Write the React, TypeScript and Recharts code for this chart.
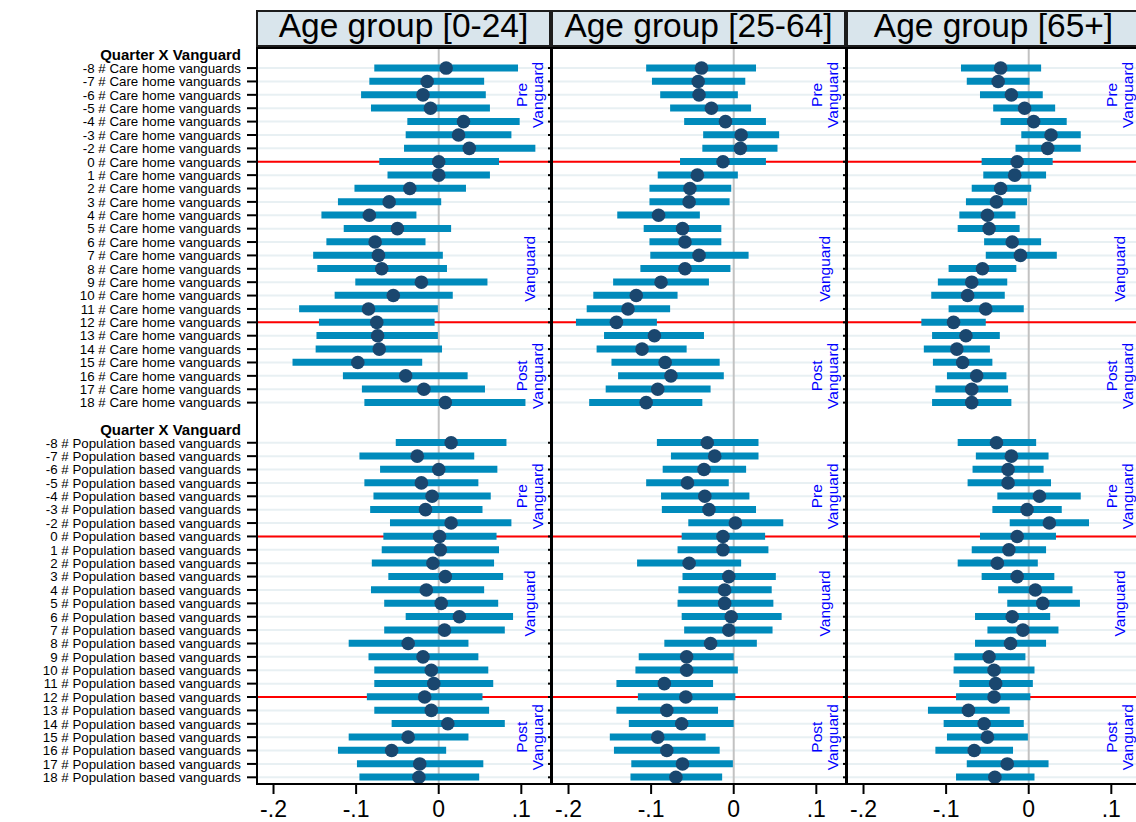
import { ComposedChart, Bar, Line, XAxis, YAxis, ReferenceLine, ReferenceDot } from "recharts";

// quarters relative to vanguard start (no -1 row in the model)
const quarters = [-8, -7, -6, -5, -4, -3, -2, 0, 1, 2, 3, 4, 5, 6, 7, 8, 9, 10, 11, 12, 13, 14, 15, 16, 17, 18];
const ageGroups = ["Age group [0-24]", "Age group [25-64]", "Age group [65+]"];
const groupTitle = "Quarter X Vanguard";
const careLabel = "Care home vanguards";
const popLabel = "Population based vanguards";
const xTicks = [-0.2, -0.1, 0, 0.1];
const redLineQuarters = [0, 12];

// Care home vanguards
const careYoungEst = [0.009, -0.014, -0.019, -0.01, 0.03, 0.024, 0.037, 0.0, 0.0, -0.035, -0.06, -0.084, -0.05, -0.077, -0.073, -0.069, -0.021, -0.055, -0.085, -0.075, -0.074, -0.072, -0.098, -0.04, -0.018, 0.008];
const careYoungLo = [-0.078, -0.084, -0.094, -0.082, -0.038, -0.04, -0.042, -0.072, -0.062, -0.102, -0.122, -0.142, -0.115, -0.136, -0.152, -0.147, -0.101, -0.126, -0.169, -0.145, -0.148, -0.149, -0.177, -0.116, -0.093, -0.09];
const careYoungHi = [0.096, 0.055, 0.057, 0.062, 0.098, 0.088, 0.117, 0.073, 0.062, 0.033, 0.003, -0.027, 0.015, -0.016, 0.005, 0.01, 0.059, 0.017, -0.001, -0.005, -0.001, 0.004, -0.02, 0.035, 0.056, 0.105];

const careAdultEst = [-0.039, -0.043, -0.042, -0.027, -0.01, 0.009, 0.008, -0.013, -0.044, -0.053, -0.054, -0.091, -0.062, -0.059, -0.042, -0.059, -0.088, -0.118, -0.128, -0.142, -0.096, -0.111, -0.083, -0.076, -0.092, -0.106];
const careAdultLo = [-0.106, -0.099, -0.089, -0.077, -0.06, -0.037, -0.038, -0.065, -0.092, -0.102, -0.102, -0.141, -0.109, -0.102, -0.101, -0.113, -0.146, -0.17, -0.178, -0.191, -0.157, -0.166, -0.148, -0.14, -0.155, -0.175];
const careAdultHi = [0.027, 0.014, 0.005, 0.021, 0.039, 0.055, 0.053, 0.039, 0.005, -0.003, -0.005, -0.041, -0.015, -0.015, 0.018, -0.004, -0.03, -0.068, -0.077, -0.093, -0.036, -0.057, -0.017, -0.012, -0.028, -0.038];

const careOldEst = [-0.034, -0.037, -0.021, -0.005, 0.006, 0.027, 0.023, -0.014, -0.017, -0.034, -0.039, -0.05, -0.048, -0.02, -0.01, -0.056, -0.069, -0.074, -0.052, -0.091, -0.076, -0.087, -0.08, -0.063, -0.069, -0.069];
const careOldLo = [-0.082, -0.075, -0.059, -0.043, -0.034, -0.009, -0.016, -0.057, -0.055, -0.069, -0.076, -0.084, -0.086, -0.054, -0.052, -0.097, -0.11, -0.118, -0.097, -0.13, -0.117, -0.127, -0.116, -0.099, -0.113, -0.117];
const careOldHi = [0.015, 0.001, 0.017, 0.032, 0.046, 0.063, 0.063, 0.029, 0.021, 0.003, -0.002, -0.016, -0.011, 0.015, 0.034, -0.015, -0.026, -0.029, -0.006, -0.052, -0.035, -0.047, -0.044, -0.027, -0.025, -0.021];

// Population based vanguards
const popYoungEst = [0.015, -0.026, 0.0, -0.021, -0.008, -0.016, 0.015, 0.001, 0.002, -0.007, 0.008, -0.015, 0.003, 0.025, 0.007, -0.037, -0.019, -0.009, -0.006, -0.017, -0.009, 0.011, -0.037, -0.057, -0.023, -0.024];
const popYoungLo = [-0.052, -0.096, -0.071, -0.09, -0.079, -0.083, -0.059, -0.067, -0.069, -0.081, -0.061, -0.082, -0.066, -0.04, -0.066, -0.109, -0.085, -0.078, -0.078, -0.087, -0.078, -0.057, -0.109, -0.122, -0.099, -0.096];
const popYoungHi = [0.082, 0.043, 0.071, 0.048, 0.063, 0.053, 0.088, 0.07, 0.073, 0.067, 0.078, 0.055, 0.072, 0.09, 0.08, 0.036, 0.048, 0.06, 0.066, 0.053, 0.061, 0.08, 0.036, 0.009, 0.054, 0.049];

const popAdultEst = [-0.032, -0.023, -0.036, -0.056, -0.035, -0.03, 0.002, -0.013, -0.013, -0.054, -0.006, -0.011, -0.011, -0.003, -0.006, -0.028, -0.057, -0.057, -0.084, -0.058, -0.081, -0.063, -0.092, -0.081, -0.062, -0.07];
const popAdultLo = [-0.093, -0.076, -0.086, -0.106, -0.088, -0.087, -0.055, -0.063, -0.068, -0.117, -0.062, -0.067, -0.068, -0.063, -0.06, -0.084, -0.115, -0.119, -0.142, -0.116, -0.142, -0.127, -0.15, -0.145, -0.124, -0.125];
const popAdultHi = [0.03, 0.03, 0.015, -0.006, 0.019, 0.027, 0.06, 0.038, 0.042, 0.009, 0.051, 0.046, 0.048, 0.058, 0.047, 0.028, 0.0, 0.005, -0.025, 0.002, -0.019, 0.0, -0.034, -0.017, -0.001, -0.014];

const popOldEst = [-0.039, -0.021, -0.025, -0.025, 0.013, -0.002, 0.025, -0.014, -0.024, -0.038, -0.014, 0.008, 0.017, -0.02, -0.007, -0.022, -0.048, -0.042, -0.04, -0.042, -0.073, -0.054, -0.05, -0.066, -0.026, -0.041];
const popOldLo = [-0.086, -0.064, -0.068, -0.074, -0.038, -0.044, -0.023, -0.059, -0.069, -0.086, -0.057, -0.037, -0.026, -0.065, -0.05, -0.065, -0.09, -0.091, -0.084, -0.088, -0.122, -0.103, -0.099, -0.113, -0.075, -0.088];
const popOldHi = [0.009, 0.024, 0.018, 0.027, 0.063, 0.04, 0.073, 0.033, 0.021, 0.011, 0.031, 0.053, 0.062, 0.026, 0.036, 0.021, -0.004, 0.007, 0.005, 0.002, -0.023, -0.006, -0.001, -0.019, 0.024, 0.007];

// period labels drawn at the right of every panel
const phaseX = 0.11;
const phaseLabels = [
  { group: "c", q: -6, lines: ["Pre", "Vanguard"] },
  { group: "c", q: 8, lines: ["Vanguard"] },
  { group: "c", q: 16, lines: ["Post", "Vanguard"] },
  { group: "p", q: -4, lines: ["Pre", "Vanguard"] },
  { group: "p", q: 5, lines: ["Vanguard"] },
  { group: "p", q: 15, lines: ["Post", "Vanguard"] },
];

const panels = [
  { care: [careYoungEst, careYoungLo, careYoungHi], pop: [popYoungEst, popYoungLo, popYoungHi] },
  { care: [careAdultEst, careAdultLo, careAdultHi], pop: [popAdultEst, popAdultLo, popAdultHi] },
  { care: [careOldEst, careOldLo, careOldHi], pop: [popOldEst, popOldLo, popOldHi] },
];

const FONT = "'Liberation Sans', Arial, Helvetica, sans-serif";
const NAVY = "#1a476f";
const EBBLUE = "#008bbc";
const PLOT_LEFT = 257;
const PLOT_W = 295;
const PLOT_TOP = 48;
const PLOT_H = 736;
const LABEL_W = 257;
const SMALL_W = 10;
const X_DOMAIN = [-0.22, -0.22 + PLOT_W / 826];

interface Row {
  key: string;
  label: string;
  header?: boolean;
  est?: number;
  ci?: [number, number];
}

function buildRows(p: number): Row[] {
  const rows: Row[] = [{ key: "h1", label: groupTitle, header: true }];
  const [ce, cl, ch] = panels[p].care;
  quarters.forEach((q, i) => rows.push({ key: `c${q}`, label: `${q} # ${careLabel}`, est: ce[i], ci: [cl[i], ch[i]] }));
  rows.push({ key: "gap", label: "" });
  rows.push({ key: "h2", label: groupTitle, header: true });
  const [pe, pl, ph] = panels[p].pop;
  quarters.forEach((q, i) => rows.push({ key: `p${q}`, label: `${q} # ${popLabel}`, est: pe[i], ci: [pl[i], ph[i]] }));
  return rows;
}

const fmt = (v: number) => {
  if (v === 0) return "0";
  const s = Math.abs(v).toFixed(1).replace(/^0/, "");
  return v < 0 ? "-" + s : s;
};

function makeTick(rows: Row[], showLabels: boolean) {
  return (props: any) => {
    const { x, y, payload } = props;
    const row = rows.find((r) => r.key === payload.value);
    if (!row || row.key === "gap") return <g />;
    if (row.header) {
      return showLabels ? (
        <text x={x - 16} y={y} dy="0.36em" textAnchor="end" fontFamily={FONT} fontSize={15} fontWeight="bold" fill="#000">
          {row.label}
        </text>
      ) : (
        <g />
      );
    }
    return (
      <g>
        <line x1={x - (showLabels ? 10 : 4)} x2={x} y1={y} y2={y} stroke="#000" strokeWidth={2} />
        {showLabels && (
          <text x={x - 16} y={y} dy="0.36em" textAnchor="end" fontFamily={FONT} fontSize={13.3} fill="#000">
            {row.label}
          </text>
        )}
      </g>
    );
  };
}

function PhaseText(props: any) {
  const { cx, cy, lines } = props;
  const step = 16;
  const start = cx - ((lines.length - 1) * step) / 2;
  return (
    <g>
      {lines.map((t: string, i: number) => {
        const lx = start + i * step;
        return (
          <text
            key={i}
            x={lx}
            y={cy}
            dy="0.35em"
            transform={`rotate(-90, ${lx}, ${cy})`}
            textAnchor="middle"
            fontFamily={FONT}
            fontSize={15.5}
            fill="#0000ff"
          >
            {t}
          </text>
        );
      })}
    </g>
  );
}

// background layer: axes, row grid, zero line, red period lines
function PanelBack({ rows, first, axisW }: { rows: Row[]; first: boolean; axisW: number }) {
  const dataRows = rows.filter((r) => r.est !== undefined);
  return (
    <ComposedChart width={axisW + PLOT_W} height={822} data={rows} layout="vertical" margin={{ top: PLOT_TOP, right: 0, bottom: 0, left: 0 }}>
      <XAxis
        type="number"
        domain={X_DOMAIN}
        allowDataOverflow
        ticks={xTicks}
        interval={0}
        tickFormatter={fmt}
        axisLine={false}
        tickLine={{ stroke: "#000", strokeWidth: 2 }}
        tickSize={10}
        tickMargin={7}
        height={822 - PLOT_TOP - PLOT_H}
        tick={{ fontSize: 23, fill: "#000", fontFamily: FONT }}
      />
      <YAxis
        type="category"
        dataKey="key"
        scale="band"
        width={axisW}
        interval={0}
        axisLine={false}
        tickLine={false}
        tickSize={0}
        tickMargin={0}
        tick={makeTick(rows, first)}
      />
      {dataRows.map((r) => (
        <ReferenceLine key={"g" + r.key} y={r.key} stroke="#e8f0f3" strokeWidth={2} />
      ))}
      <ReferenceLine x={0} stroke="#c2c2c2" strokeWidth={2} />
      {redLineQuarters.map((q) => (
        <ReferenceLine key={"rc" + q} y={`c${q}`} stroke="#ff0000" strokeWidth={2} />
      ))}
      {redLineQuarters.map((q) => (
        <ReferenceLine key={"rp" + q} y={`p${q}`} stroke="#ff0000" strokeWidth={2} />
      ))}
      {/* invisible bar keeps the category axis on a band scale, same as the front layer */}
      <Bar dataKey="ci" barSize={7} fill="none" isAnimationActive={false} />
    </ComposedChart>
  );
}

// front layer: confidence intervals, estimates, period labels
function PanelFront({ rows, axisW }: { rows: Row[]; axisW: number }) {
  return (
    <ComposedChart width={axisW + PLOT_W} height={822} data={rows} layout="vertical" margin={{ top: PLOT_TOP, right: 0, bottom: 0, left: 0 }}>
      <XAxis type="number" domain={X_DOMAIN} allowDataOverflow ticks={xTicks} axisLine={false} tickLine={false} tick={false} height={822 - PLOT_TOP - PLOT_H} />
      <YAxis type="category" dataKey="key" scale="band" width={axisW} interval={0} axisLine={false} tickLine={false} tick={false} />
      <Bar dataKey="ci" barSize={7} fill={EBBLUE} isAnimationActive={false} />
      <Line
        dataKey="est"
        stroke="none"
        strokeWidth={0}
        dot={{ r: 6.8, fill: NAVY, stroke: NAVY, strokeWidth: 0 }}
        activeDot={false}
        isAnimationActive={false}
      />
      {phaseLabels.map((ph, i) => (
        <ReferenceDot
          key={"ph" + i}
          x={phaseX}
          y={`${ph.group}${ph.q}`}
          r={0}
          shape={(p: any) => <PhaseText cx={p.cx} cy={p.cy} lines={ph.lines} />}
        />
      ))}
    </ComposedChart>
  );
}

function Panel({ index }: { index: number }) {
  const rows = buildRows(index);
  const first = index === 0;
  const axisW = first ? LABEL_W : SMALL_W;
  const left = PLOT_LEFT + index * PLOT_W - axisW;
  return (
    <>
      <div style={{ position: "absolute", top: 0, left }}>
        <PanelBack rows={rows} first={first} axisW={axisW} />
      </div>
      <div style={{ position: "absolute", top: 0, left }}>
        <PanelFront rows={rows} axisW={axisW} />
      </div>
    </>
  );
}

export default function App() {
  return (
    <div
      style={{
        position: "absolute",
        top: 0,
        left: 0,
        width: 1136,
        height: 822,
        overflow: "hidden",
        background: "#fff",
        fontFamily: FONT,
      }}
    >
      {[0, 1, 2].map((i) => (
        <Panel key={i} index={i} />
      ))}
      <svg width={1136} height={822} style={{ position: "absolute", top: 0, left: 0, pointerEvents: "none" }}>
        {ageGroups.map((title, i) => {
          const L = PLOT_LEFT + i * PLOT_W;
          return (
            <g key={title}>
              <rect x={L} y={11} width={PLOT_W - 2} height={35} fill="#d9e5ec" stroke="#1c1c1c" strokeWidth={2} />
              <text x={L + (PLOT_W - 2) / 2} y={37} textAnchor="middle" fontFamily={FONT} fontSize={33.5} fill="#000">
                {title}
              </text>
              <rect x={L} y={PLOT_TOP} width={PLOT_W - 1} height={PLOT_H} fill="none" stroke="#000" strokeWidth={2} />
            </g>
          );
        })}
      </svg>
    </div>
  );
}
